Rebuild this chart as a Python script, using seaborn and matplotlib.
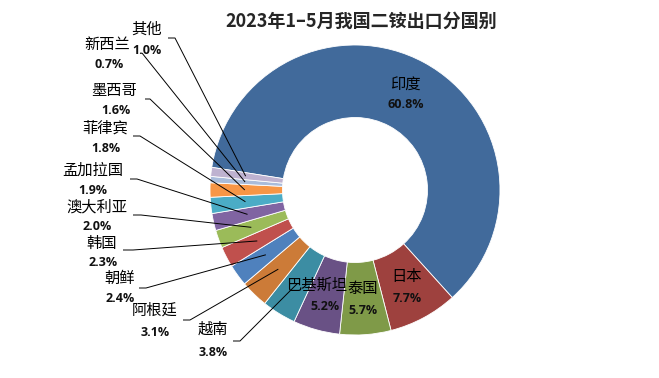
import numpy as np
import matplotlib
matplotlib.use("Agg")
import matplotlib.pyplot as plt
import seaborn as sns

# ---------------- data ----------------
title = "2023年1–5月我国二铵出口分国别"
countries = ["印度", "日本", "泰国", "巴基斯坦", "越南", "阿根廷", "朝鲜", "韩国",
             "澳大利亚", "孟加拉国", "菲律宾", "墨西哥", "新西兰", "其他"]
shares = [60.8, 7.7, 5.7, 5.2, 3.8, 3.1, 2.4, 2.3, 2.0, 1.9, 1.8, 1.6, 0.7, 1.0]

# ---------------- styles / layout ----------------
colors = ["#416A9B", "#9E413E", "#7F9A48", "#695185", "#3C8DA3", "#CC7B38",
          "#4F81BD", "#C0504D", "#9BBB59", "#8064A2", "#4BACC6", "#F79646",
          "#A9BCDB", "#BEB2D0"]

# label layout in pixel coordinates (name centre, percent centre)
name_pos = [(405, 85), (407, 277), (363, 289), (317, 285), (213, 329), (155, 310),
            (120, 278), (102, 243), (97, 207), (93, 170), (105, 128), (114, 91),
            (107, 45), (147, 29)]
pct_pos = [(406, 105), (407, 298), (363, 311), (325, 306), (213, 352), (155, 332),
           (120, 299), (103, 262), (97, 227), (93, 191), (106, 148), (116, 111),
           (109, 65), (147, 51)]
# leader line start / horizontal break (pixels); None = label sits on slice
leader = [None, None, None, None,
          ((233, 341), (240, 341)), ((183, 320), (190, 320)),
          ((139, 288), (146, 288)), ((123, 250), (133, 250)),
          ((133, 215), (141, 215)), ((130, 179), (137, 179)),
          ((133, 136), (140, 136)), ((145, 99), (150, 99)),
          ((142, 53), (142, 53)), ((168, 38), (175, 38))]

W, H = 659, 378
CX, CY, R = 355, 190, 145
START = 171

sns.set_theme(style="white")
plt.rcParams["font.family"] = ["Noto Sans CJK SC", "DejaVu Sans"]

fig = plt.figure(figsize=(W / 100, H / 100), dpi=100)
fig.patch.set_facecolor("white")
ax = fig.add_axes([(CX - R) / W, (H - CY - R) / H, 2 * R / W, 2 * R / H])

wedges, _ = ax.pie(shares, colors=colors, startangle=START, counterclock=False,
                   radius=1.0, wedgeprops=dict(width=0.5, edgecolor="white", linewidth=0.6))
ax.set_xlim(-1, 1)
ax.set_ylim(-1, 1)
ax.set_aspect("equal")
ax.axis("off")


def to_data(p):
    return ((p[0] - CX) / R, (CY - p[1]) / R)


for i, (name, val) in enumerate(zip(countries, shares)):
    nx, ny = to_data(name_pos[i])
    px, py = to_data(pct_pos[i])
    ax.text(nx, ny, name, ha="center", va="center", fontsize=11,
            fontweight="medium", color="black",
            family=["Noto Sans CJK SC", "DejaVu Sans"], clip_on=False)
    ax.text(px, py, f"{val:.1f}%", ha="center", va="center", fontsize=9,
            fontweight="bold", color="#111111", family=["Open Sans", "DejaVu Sans"],
            clip_on=False)
    if leader[i] is not None:
        w = wedges[i]
        mid = np.deg2rad((w.theta1 + w.theta2) / 2)
        ex, ey = 0.76 * np.cos(mid), 0.76 * np.sin(mid)
        s = to_data(leader[i][0])
        b = to_data(leader[i][1])
        ax.plot([s[0], b[0], ex], [s[1], b[1], ey], color="black", lw=0.7,
                clip_on=False, solid_capstyle="butt")

fig.text(361 / W, 1 - 21 / H, title, ha="center", va="center", fontsize=13,
         fontweight="bold", family=["Noto Sans CJK SC", "DejaVu Sans"])

fig.savefig("out.png", dpi=100, facecolor="white")
